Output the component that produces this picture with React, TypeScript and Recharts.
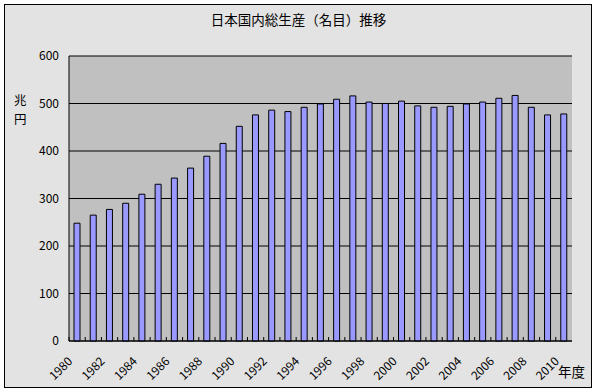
import { Bar, BarChart, CartesianGrid, XAxis, YAxis } from 'recharts'

const years = [
  '1980', '1981', '1982', '1983', '1984', '1985', '1986', '1987', '1988', '1989',
  '1990', '1991', '1992', '1993', '1994', '1995', '1996', '1997', '1998', '1999',
  '2000', '2001', '2002', '2003', '2004', '2005', '2006', '2007', '2008', '2009', '2010',
]
const gdp = [
  248, 265, 277, 290, 309, 330, 343, 364, 389, 416,
  452, 476, 486, 483, 492, 499, 509, 516, 503, 500,
  505, 495, 492, 494, 499, 503, 511, 517, 492, 476, 478,
]
const yTicks = [0, 100, 200, 300, 400, 500, 600]

const data = years.map((year, i) => ({ year, value: gdp[i] }))

const font = '"Noto Sans CJK JP", "Noto Sans", sans-serif'
const band = 503 / 31

function YearTick({ x, y, payload, index }: any) {
  const edge = x - band / 2
  const ax = x - 4
  const ay = y + 21
  return (
    <g>
      <line x1={edge} y1={y - 4} x2={edge} y2={y} stroke="#000" />
      {index % 2 === 0 && (
        <text
          x={ax}
          y={ay}
          transform={`rotate(-45 ${ax} ${ay})`}
          textAnchor="end"
          fontSize={12}
          fontFamily={font}
          fill="#000"
        >
          {payload.value}
        </text>
      )}
    </g>
  )
}

export default function App() {
  return (
    <div style={{ position: 'absolute', left: 0, top: 0, width: 597, height: 392, background: '#fff' }}>
      <div
        style={{
          position: 'absolute', left: 4, top: 4, width: 586, height: 382,
          border: '1px solid #000', background: '#E3E3E3',
        }}
      />
      <div
        style={{
          position: 'absolute', left: 0, top: 10, width: 597, textAlign: 'center',
          fontFamily: font, fontSize: 13.5, color: '#000', lineHeight: '18px',
        }}
      >
        日本国内総生産（名目）推移
      </div>
      <div
        style={{
          position: 'absolute', left: 14, top: 90, width: 16, fontFamily: font,
          fontSize: 12.5, lineHeight: '19px', color: '#000',
        }}
      >
        兆<br />円
      </div>
      <div
        style={{
          position: 'absolute', left: 558, top: 362, fontFamily: font,
          fontSize: 13.5, lineHeight: '18px', color: '#000',
        }}
      >
        年度
      </div>
      <div style={{ position: 'absolute', left: 0, top: 0 }}>
        <BarChart width={597} height={392} data={data} margin={{ top: 56, right: 25, bottom: 0, left: 39 }}>
          <CartesianGrid vertical={false} stroke="#000" fill="#C0C0C0" fillOpacity={1} />
          <XAxis
            dataKey="year"
            height={51}
            interval={0}
            tickSize={0}
            tickMargin={0}
            tickLine={false}
            axisLine={{ stroke: '#000' }}
            tick={<YearTick />}
          />
          <XAxis xAxisId="top" dataKey="year" orientation="top" height={0} tick={false} tickLine={false} axisLine={{ stroke: '#808080' }} />
          <YAxis
            domain={[0, 600]}
            ticks={yTicks}
            width={30}
            tickSize={0}
            tickMargin={10}
            tickLine={false}
            axisLine={{ stroke: '#000' }}
            tick={{ fontSize: 12, fontFamily: font, fill: '#000' }}
          />
          <YAxis yAxisId="right" orientation="right" width={0} domain={[0, 600]} tick={false} tickLine={false} axisLine={{ stroke: '#808080' }} />
          <Bar dataKey="value" fill="#9999FF" stroke="#000" strokeWidth={1} barSize={6} isAnimationActive={false} />
        </BarChart>
      </div>
    </div>
  )
}
